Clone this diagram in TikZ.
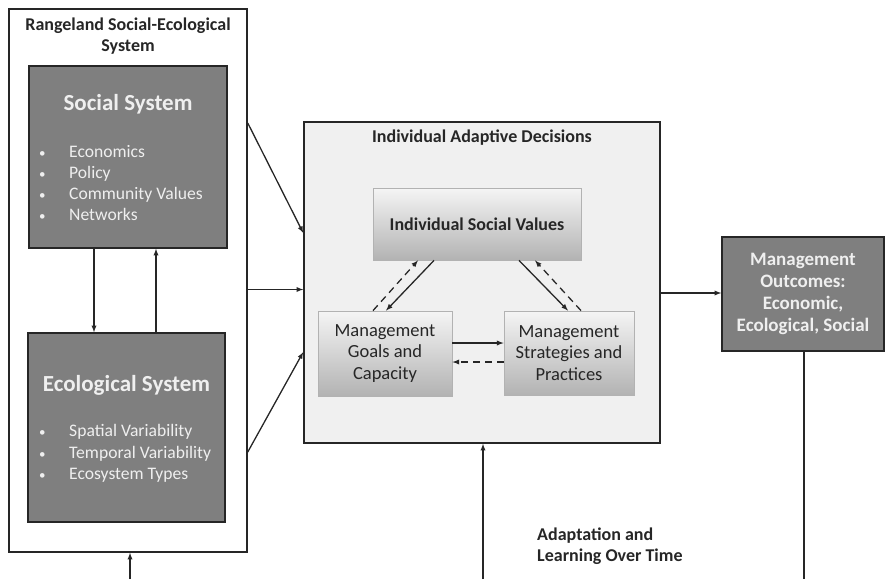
\documentclass[tikz,border=0pt]{standalone}
\usepackage{fontspec}
\setmainfont{Carlito}
\usetikzlibrary{positioning}

\definecolor{boxgray}{HTML}{7F7F7F}
\definecolor{linegray}{HTML}{262626}
\definecolor{panelgray}{HTML}{F0F0F0}
\definecolor{textlight}{HTML}{EFEFEF}

\newcommand{\bul}[1]{\makebox[30pt][l]{\fontsize{13}{13}\selectfont\textbullet}#1}

\begin{document}
\begin{tikzpicture}[
  x=1pt, y=-1pt, >=latex,
  framebox/.style={
        draw=linegray,
        line width=1.5pt,
        inner sep=0pt
  },
  darkbox/.style={
        framebox,
        fill=boxgray
  },
  shadebox/.style={
        draw=gray!60,
        line width=0.8pt,
        inner sep=0pt,
        top color=gray!8,
        bottom color=gray!60,
        align=center,
        text=linegray,
        font=\fontsize{18.5}{21.5}\selectfont
  },
  headtext/.style={
        text=textlight,
        font=\bfseries\fontsize{23}{27}\selectfont
  },
  listtext/.style={
        text=textlight,
        align=left,
        inner sep=0pt,
        font=\fontsize{17.6}{21.3}\selectfont
  },
  labeltext/.style={
        text=linegray,
        align=center,
        inner sep=0pt,
        font=\bfseries\fontsize{18}{21}\selectfont
  },
  conn/.style={
        ->,
        draw=linegray,
        line width=1.3pt
  },
  dashconn/.style={
        conn,
        dash pattern=on 7pt off 5pt
  }
]

    \useasboundingbox (0,0) rectangle (885,579);

    % left panel
    \node[framebox, minimum width=238pt, minimum height=543pt] (outer) at (128,280.5) {};
    \node[labeltext] (outertitle) at (128,36.5) {Rangeland Social-Ecological\\System};

    \node[darkbox, minimum width=198pt, minimum height=182pt] (social) at (128,157) {};
    \node[headtext] (socialhead) at (128,104) {Social System};
    \node[listtext, anchor=west] (sociallist) at (39,183)
        {\bul{Economics}\\\bul{Policy}\\\bul{Community Values}\\\bul{Networks}};

    \node[darkbox, minimum width=197pt, minimum height=189pt] (eco) at (126.5,427.5) {};
    \node[headtext] (ecohead) at (126.5,385) {Ecological System};
    \node[listtext, anchor=west] (ecolist) at (39,453.5)
        {\bul{Spatial Variability}\\\bul{Temporal Variability}\\\bul{Ecosystem Types}};

    \draw[conn] ([xshift=-34pt]social.south) -- ([xshift=-34pt]social.south |- eco.north);
    \draw[conn] ([xshift=28pt]social.south |- eco.north) -- ([xshift=28pt]social.south);

    % decisions panel
    \node[framebox, fill=panelgray, minimum width=356pt, minimum height=321pt] (central) at (482,282.5) {};
    \node[labeltext] (centraltitle) at (482,138) {Individual Adaptive Decisions};

    \node[shadebox, font=\bfseries\fontsize{18}{21}\selectfont,
          minimum width=208pt, minimum height=72pt] (values) at (477,224) {Individual Social Values};
    \node[shadebox, minimum width=134pt, minimum height=85pt] (goals) at (385,353.5)
        {Management\\Goals and\\Capacity};
    \node[shadebox, minimum width=130pt, minimum height=84pt] (strategies) at (569,353)
        {Management\\Strategies and\\Practices};

    \draw[conn] ([xshift=-43pt]values.south) -- ([xshift=1pt]goals.north);
    \draw[dashconn] ([xshift=-12pt]goals.north) -- ([xshift=-59pt]values.south);
    \draw[conn] ([xshift=42pt]values.south) -- ([xshift=-1pt]strategies.north);
    \draw[dashconn] ([xshift=12pt]strategies.north) -- ([xshift=58pt]values.south);
    \draw[conn] ([yshift=10.5pt]goals.east) -- ([yshift=10.5pt]goals.east -| strategies.west);
    \draw[dashconn] ([yshift=-8.5pt]goals.east -| strategies.west) -- ([yshift=-8.5pt]goals.east);

    % links between panels
    \draw[conn] ([yshift=157.5pt]outer.east) -- ([yshift=49.5pt]central.west);
    \draw[conn] ([yshift=-9pt]outer.east) -- ([yshift=-9pt]outer.east -| central.west);
    \draw[conn] ([yshift=-171.5pt]outer.east) -- ([yshift=-69.5pt]central.west);

    % outcomes
    \node[darkbox, minimum width=162pt, minimum height=114pt, align=center, text=textlight,
          font=\bfseries\fontsize{19}{22}\selectfont] (outcomes) at (803,294)
        {Management\\Outcomes:\\Economic,\\Ecological, Social};
    \draw[conn] ([yshift=-10.5pt]central.east) -- ([yshift=-10.5pt]central.east -| outcomes.west);

    % feedback over time
    \coordinate (loopa) at (130,579);
    \coordinate (loopb) at (483,579);
    \coordinate (loopc) at (804,579);
    \draw[conn] (loopa) -- (loopa |- outer.south);
    \draw[conn] (loopb) -- (loopb |- central.south);
    \draw[line width=1.3pt, draw=linegray] (loopc |- outcomes.south) -- (loopc);
    \node[labeltext, align=left, anchor=north west] (looplabel) at (537,528)
        {Adaptation and\\Learning Over Time};

\end{tikzpicture}
\end{document}
